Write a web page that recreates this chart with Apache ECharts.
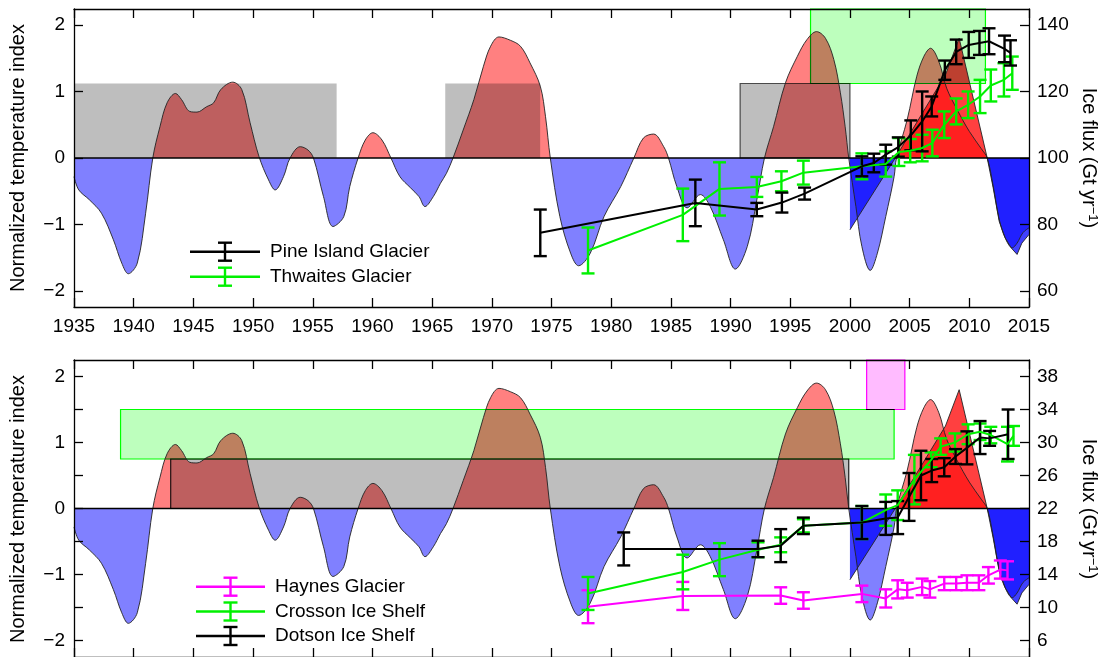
<!DOCTYPE html>
<html>
<head>
<meta charset="utf-8">
<script src="https://cdn.jsdelivr.net/npm/echarts@6/dist/echarts.min.js"></script>
<style>
html,body{margin:0;padding:0;background:#fff;}
#chart{width:1105px;height:657px;}
</style>
</head>
<body>
<div id="chart"></div>
<script>
const FONT = '"Liberation Sans", Arial, Helvetica, sans-serif';

// Normalized temperature index, long smoothed record: [year, index]
const tempLong = [
  [1935.0,-0.28],[1935.4,-0.48],[1936.3,-0.63],[1937.3,-0.83],[1938.3,-1.23],[1939.0,-1.58],
  [1939.55,-1.74],[1940.3,-1.58],[1941.0,-0.83],[1941.6,0],[1942.2,0.47],[1942.8,0.83],
  [1943.5,0.97],[1944.0,0.88],[1944.7,0.70],[1945.3,0.69],[1946.1,0.77],[1946.7,0.83],
  [1947.3,1.03],[1948.3,1.14],[1949.05,1.03],[1949.75,0.53],[1950.5,0.02],[1951.3,-0.33],
  [1951.85,-0.48],[1952.55,-0.28],[1953.1,0],[1953.95,0.17],[1954.6,0.12],[1955.06,0],
  [1955.9,-0.58],[1956.7,-1.03],[1957.6,-0.88],[1958.1,-0.43],[1958.8,0],[1959.4,0.27],
  [1960.04,0.38],[1960.8,0.27],[1961.55,0],[1962.3,-0.28],[1963.2,-0.45],[1963.9,-0.58],
  [1964.4,-0.73],[1965.1,-0.58],[1965.7,-0.38],[1966.2,-0.23],[1966.75,0],[1967.6,0.42],
  [1968.5,0.88],[1969.3,1.38],[1969.9,1.68],[1970.6,1.82],[1971.55,1.77],[1972.4,1.68],
  [1973.2,1.43],[1974.06,1.08],[1974.5,0.62],[1974.9,0],[1975.7,-0.88],[1976.6,-1.43],
  [1977.27,-1.62],[1978.25,-1.43],[1979.4,-0.88],[1980.8,-0.43],[1981.9,0],[1982.7,0.30],
  [1983.55,0.36],[1984.4,0.17],[1984.8,0],[1985.5,-0.43],[1986.36,-0.75],[1987.47,-0.55],
  [1988.3,-0.73],[1989.4,-1.23],[1990.4,-1.67],[1991.4,-1.33],[1992.2,-0.63],[1992.84,0],
  [1993.6,0.47],[1994.6,1.13],[1995.6,1.53],[1996.4,1.78],[1997.2,1.90],[1997.95,1.80],
  [1998.65,1.48],[1999.2,0.98],[1999.6,0.47],[1999.9,0],[2000.5,-0.73],[2001.0,-1.33],
  [2001.7,-1.69],[2002.3,-1.43],[2003.0,-0.88],[2003.7,-0.28],[2003.9,0],[2004.8,0.58],
  [2005.6,1.23],[2006.2,1.53],[2006.75,1.65],[2007.45,1.45],[2008.1,1.05],[2009.0,0.72],
  [2010.0,0.40],[2011.0,0.14],[2011.5,0],[2012.0,-0.42],[2012.5,-0.92],[2013.0,-1.20],
  [2013.6,-1.35],[2014.0,-1.28],[2014.5,-1.12],[2015.0,-1.05]
];

// Normalized temperature index, recent record: [year, index]
const tempRecent = [
  [2000.0,-1.08],[2003.8,0],[2008.0,1.25],[2009.15,1.80],[2011.5,0],[2012.0,-0.45],
  [2012.5,-0.95],[2013.0,-1.20],[2013.5,-1.35],[2014.0,-1.45],[2014.4,-1.28],[2015.0,-1.15]
];

// Axis ticks
const tempLabelTicks = [-2, -1, 0, 1, 2];
const tempMinorTicks = [-2, -1.5, -1, -0.5, 0, 0.5, 1, 1.5, 2];
const fluxTicksTop = [60, 80, 100, 120, 140];
const fluxTicksBottom = [6, 10, 14, 18, 22, 26, 30, 34, 38];

// Ice flux (Gt/yr): [year, flux, uncertainty]
const pineIsland = [
  [1974.06,77.5,7.0],[1987.05,86.5,7.0],[1992.2,84.5,2.0],[1994.3,86.6,3.0],[1996.2,89.3,1.8],
  [2001.0,97.5,3.0],[2002.0,98.5,2.8],[2003.0,101.0,3.0],[2004.05,103.3,2.9],[2005.1,106.8,4.5],
  [2006.05,111.0,9.0],[2006.85,115.5,3.0],[2007.95,126.4,2.9],[2008.9,131.9,3.7],[2009.95,134.0,3.9],
  [2010.85,134.6,3.6],[2011.65,135.1,3.9],[2012.95,132.8,4.0],[2013.45,131.6,3.8]
];
const thwaites = [
  [1978.06,72.2,6.9],[1986.0,82.9,7.9],[1989.07,90.7,8.0],[1992.2,91.3,3.0],[1994.26,93.0,3.0],
  [1996.1,95.6,3.6],[2001.0,97.5,3.9],[2003.0,98.2,3.8],[2004.1,101.8,4.2],[2005.05,102.2,3.5],
  [2006.05,103.0,4.0],[2006.9,104.5,4.0],[2007.9,110.0,4.0],[2008.9,114.0,3.9],[2009.9,116.0,4.0],
  [2010.9,118.5,5.0],[2011.8,121.8,4.8],[2012.9,123.5,5.0],[2013.6,125.5,5.0]
];
const haynes = [
  [1978.06,10.1,2.0],[1986.0,11.4,1.7],[1994.2,11.45,1.0],[1996.1,10.85,1.0],[2001.0,11.65,1.0],
  [2003.0,11.1,1.1],[2004.0,12.2,1.1],[2004.8,12.1,0.9],[2006.05,12.5,1.0],[2006.7,12.2,1.0],
  [2007.9,12.9,0.8],[2008.9,12.9,0.8],[2009.8,13.0,0.9],[2010.8,13.0,0.9],[2011.6,13.9,1.0],
  [2012.6,14.6,1.1],[2013.2,14.5,1.1]
];
const crosson = [
  [1978.06,11.7,2.0],[1986.0,14.3,2.1],[1989.07,15.8,2.0],[1992.3,17.0,0.9],[1994.2,17.6,0.9],
  [1996.1,19.9,0.8],[2001.0,20.3,2.0],[2003.0,21.8,1.9],[2004.0,22.4,1.8],[2005.4,25.5,3.0],
  [2006.8,27.9,0.9],[2007.6,29.5,1.0],[2008.8,30.0,1.1],[2009.9,31.0,1.2],[2010.9,31.3,1.0],
  [2011.8,30.9,1.0],[2013.2,29.8,2.1],[2013.7,30.8,1.2]
];
const dotson = [
  [1981.05,17.1,2.0],[1992.3,17.1,1.0],[1994.2,17.5,2.0],[1996.1,19.9,1.0],[2001.0,20.3,2.0],
  [2003.0,20.8,2.0],[2004.0,20.9,2.0],[2004.95,23.4,2.9],[2005.95,26.0,3.0],[2006.85,26.6,1.4],
  [2007.9,27.0,1.1],[2008.85,28.3,0.9],[2009.8,29.35,2.0],[2010.9,30.6,2.0],[2011.7,30.5,0.9],
  [2013.25,31.0,3.0]
];

// Shaded periods: [startYear, endYear, lowerIndex, upperIndex]
const greyPeriodsTop = [[1935, 1957, 0, 1.12], [1966.1, 1974.05, 0, 1.12]];
const greyFramedTop = [[1990.8, 2000, 0, 1.12]];
const greenPeriodsTop = [[1996.7, 2011.35, 1.12, 2.24]];
const greenPeriodsBottom = [[1938.9, 2003.7, 0.75, 1.5]];
const greyPeriodsBottom = [[1943.1, 1999.9, 0, 0.75]];
const pinkPeriodsBottom = [[2001.4, 2004.6, 1.5, 2.25]];

const GRID_LEFT = 74, GRID_W = 955, GRID_H = 298;
const GREEN = '#00f000';
const fmtSigned = v => (v < 0 ? '\u2212' + Math.abs(v) : String(v));

function xAxes(gridIndex, showLabels) {
  const common = {
    gridIndex, type: 'value', min: 1935, max: 2015, interval: 5, z: 10,
    splitLine: { show: false },
    axisLine: { show: true, onZero: false, lineStyle: { color: '#000', width: 1.3 } },
    axisTick: { show: true, inside: true, length: 9, lineStyle: { color: '#000', width: 1.3 } }
  };
  return [
    Object.assign({}, common, {
      position: 'bottom',
      axisLabel: { show: showLabels, color: '#000', fontSize: 19, fontFamily: FONT, margin: 10,
                   showMinLabel: true, showMaxLabel: true, formatter: v => String(v) }
    }),
    Object.assign({}, common, { position: 'top', axisLabel: { show: false } })
  ];
}

function tempAxis(gridIndex, lim, tickVals) {
  return {
    gridIndex, type: 'value', position: 'left', min: -lim, max: lim, z: 10,
    splitLine: { show: false },
    axisLine: { show: true, onZero: false, lineStyle: { color: '#000', width: 1.3 } },
    axisTick: { show: true, inside: true, length: 9, customValues: tickVals,
                lineStyle: { color: '#000', width: 1.3 } },
    axisLabel: { customValues: tempLabelTicks, formatter: fmtSigned, color: '#000',
                 fontSize: 19, fontFamily: FONT, margin: 9 }
  };
}

function fluxAxis(gridIndex, min, max, ticks) {
  return {
    gridIndex, type: 'value', position: 'right', min, max, z: 10,
    splitLine: { show: false },
    axisLine: { show: true, onZero: false, lineStyle: { color: '#000', width: 1.3 } },
    axisTick: { show: true, inside: true, length: 9, customValues: ticks,
                lineStyle: { color: '#000', width: 1.3 } },
    axisLabel: { customValues: ticks, color: '#000', fontSize: 19, fontFamily: FONT, margin: 8 }
  };
}

const series = [];
const areaSeriesIdx = [];
const BOX_FILLS = ['#bebebe', '#bdffbd', '#ffbbff'];

function addTempArea(data, xi, yi, smooth, opacity) {
  areaSeriesIdx.push(series.length);
  series.push({
    type: 'line', xAxisIndex: xi, yAxisIndex: yi, data, smooth, symbol: 'none', silent: true,
    z: 1, lineStyle: { width: 0 }, areaStyle: { opacity }
  });
}
function addTempOutline(data, xi, yi, smooth) {
  series.push({
    type: 'line', xAxisIndex: xi, yAxisIndex: yi, data, smooth, symbol: 'none', silent: true,
    z: 3, lineStyle: { color: '#222', width: 0.9 }
  });
}
function addBoxes(data, xi, yi, fill, stroke) {
  series.push({
    type: 'custom', coordinateSystem: 'cartesian2d', xAxisIndex: xi, yAxisIndex: yi,
    data, silent: true, z: 2,
    encode: { x: [0, 1], y: [2, 3] },
    renderItem: function (params, api) {
      const p0 = api.coord([api.value(0), api.value(2)]);
      const p1 = api.coord([api.value(1), api.value(3)]);
      return {
        type: 'rect',
        shape: { x: p0[0], y: p1[1], width: p1[0] - p0[0], height: p0[1] - p1[1] },
        style: { fill, stroke: stroke || null, lineWidth: stroke ? 1.2 : 0 }
      };
    }
  });
}
function addZeroLine(xi, yi) {
  series.push({
    type: 'line', xAxisIndex: xi, yAxisIndex: yi, data: [[1935, 0], [2015, 0]], symbol: 'none',
    silent: true, z: 3, lineStyle: { color: '#000', width: 1.3 }
  });
}
function addFlux(data, color, xi, yi) {
  series.push({
    type: 'line', xAxisIndex: xi, yAxisIndex: yi, data: data.map(d => [d[0], d[1]]),
    symbol: 'none', silent: true, z: 5, lineStyle: { color, width: 2 }
  });
  series.push({
    type: 'custom', coordinateSystem: 'cartesian2d', xAxisIndex: xi, yAxisIndex: yi,
    data, silent: true, z: 5,
    encode: { x: 0, y: 1 },
    renderItem: function (params, api) {
      const x = api.value(0), v = api.value(1), e = api.value(2);
      const hi = api.coord([x, v + e]);
      const lo = api.coord([x, v - e]);
      const hw = 6.5;
      const style = { stroke: color, lineWidth: 2.4 };
      return {
        type: 'group',
        children: [
          { type: 'line', shape: { x1: hi[0], y1: hi[1], x2: lo[0], y2: lo[1] }, style },
          { type: 'line', shape: { x1: hi[0] - hw, y1: hi[1], x2: hi[0] + hw, y2: hi[1] }, style },
          { type: 'line', shape: { x1: lo[0] - hw, y1: lo[1], x2: lo[0] + hw, y2: lo[1] }, style }
        ]
      };
    }
  });
}

// Upper panel: Pine Island and Thwaites glaciers
addTempArea(tempLong, 0, 0, 0.35, 0.5);
addTempArea(tempRecent, 0, 0, false, 0.75);
// Lower panel: Haynes, Crosson and Dotson
addTempArea(tempLong, 2, 2, 0.35, 0.5);
addTempArea(tempRecent, 2, 2, false, 0.75);

addBoxes(greyPeriodsTop, 0, 0, '#bebebe', null);
addBoxes(greyFramedTop, 0, 0, '#bebebe', '#555555');
addBoxes(greenPeriodsTop, 0, 0, '#bdffbd', '#00ff00');
addBoxes(greenPeriodsBottom, 2, 2, '#bdffbd', '#00ff00');
addBoxes(greyPeriodsBottom, 2, 2, '#bebebe', '#222222');
addBoxes(pinkPeriodsBottom, 2, 2, '#ffbbff', '#ff00ff');

addTempOutline(tempLong, 0, 0, 0.35);
addTempOutline(tempRecent, 0, 0, false);
addTempOutline(tempLong, 2, 2, 0.35);
addTempOutline(tempRecent, 2, 2, false);
addZeroLine(0, 0);
addZeroLine(2, 2);

addFlux(thwaites, GREEN, 0, 1);
addFlux(pineIsland, '#000000', 0, 1);
addFlux(haynes, '#ff00ff', 2, 3);
addFlux(crosson, GREEN, 2, 3);
addFlux(dotson, '#000000', 2, 3);

function legendEntry(x1, x2, y, color, label) {
  const cx = (x1 + x2) / 2;
  const st = { stroke: color, lineWidth: 2.4 };
  return [
    { type: 'line', shape: { x1, y1: y, x2, y2: y }, style: st, z: 20 },
    { type: 'line', shape: { x1: cx, y1: y - 9, x2: cx, y2: y + 9 }, style: st, z: 20 },
    { type: 'line', shape: { x1: cx - 7, y1: y - 9, x2: cx + 7, y2: y - 9 }, style: st, z: 20 },
    { type: 'line', shape: { x1: cx - 7, y1: y + 9, x2: cx + 7, y2: y + 9 }, style: st, z: 20 },
    { type: 'text', x: x2 + 10, y, z: 20,
      style: { text: label, fill: '#000', font: '19px ' + FONT,
               align: 'left', verticalAlign: 'middle', textAlign: 'left', textVerticalAlign: 'middle' } }
  ];
}

function sideTitle(x, y, rotation, text, rich) {
  return {
    type: 'text', x, y, rotation, z: 20,
    style: { text, fill: '#000', font: '20px ' + FONT, rich,
             align: 'center', verticalAlign: 'middle', textAlign: 'center', textVerticalAlign: 'middle' }
  };
}
const supRich = { sup: { fontSize: 13, fontFamily: FONT, verticalAlign: 'top', fill: '#000', padding: [0, 0, 8, 0] } };

const graphics = [].concat(
  legendEntry(190, 260, 251.7, '#000000', 'Pine Island Glacier'),
  legendEntry(190, 260, 276.7, GREEN, 'Thwaites Glacier'),
  legendEntry(196, 265, 586.7, '#ff00ff', 'Haynes Glacier'),
  legendEntry(196, 265, 611.5, GREEN, 'Crosson Ice Shelf'),
  legendEntry(196, 265, 636, '#000000', 'Dotson Ice Shelf'),
  [
    sideTitle(18, 158, Math.PI / 2, 'Normalized temperature index'),
    sideTitle(18, 509, Math.PI / 2, 'Normalized temperature index'),
    sideTitle(1089, 158, -Math.PI / 2, 'Ice flux (Gt yr{sup|\u22121})', supRich),
    sideTitle(1089, 509, -Math.PI / 2, 'Ice flux (Gt yr{sup|\u22121})', supRich)
  ]
);

const chart = echarts.init(document.getElementById('chart'), null, { renderer: 'canvas' });
chart.setOption({
  backgroundColor: '#ffffff',
  animation: false,
  grid: [
    { left: GRID_LEFT, top: 9, width: GRID_W, height: GRID_H },
    { left: GRID_LEFT, top: 360, width: GRID_W, height: GRID_H }
  ],
  xAxis: [].concat(xAxes(0, true), xAxes(1, false)),
  yAxis: [
    tempAxis(0, 2.24, tempLabelTicks),
    fluxAxis(0, 55.2, 144.8, fluxTicksTop),
    tempAxis(1, 2.25, tempMinorTicks),
    fluxAxis(1, 4, 40, fluxTicksBottom)
  ],
  visualMap: {
    type: 'piecewise', show: false, dimension: 1, seriesIndex: areaSeriesIdx,
    pieces: [{ gte: -10, lt: 0, color: '#0000ff' }, { gte: 0, lte: 10, color: '#ff0000' }]
  },
  graphic: graphics,
  series
});

// Shaded period boxes tint what lies beneath them (multiply compositing)
function applyBoxBlend() {
  const zr = chart.getZr();
  zr.storage.getDisplayList(true).forEach(el => {
    if (el.type === 'rect' && el.style && BOX_FILLS.indexOf(String(el.style.fill).toLowerCase()) >= 0) {
      el.setStyle('blend', 'multiply');
    }
  });
  zr.refreshImmediately();
}
applyBoxBlend();
chart.on('finished', applyBoxBlend);
</script>
</body>
</html>
